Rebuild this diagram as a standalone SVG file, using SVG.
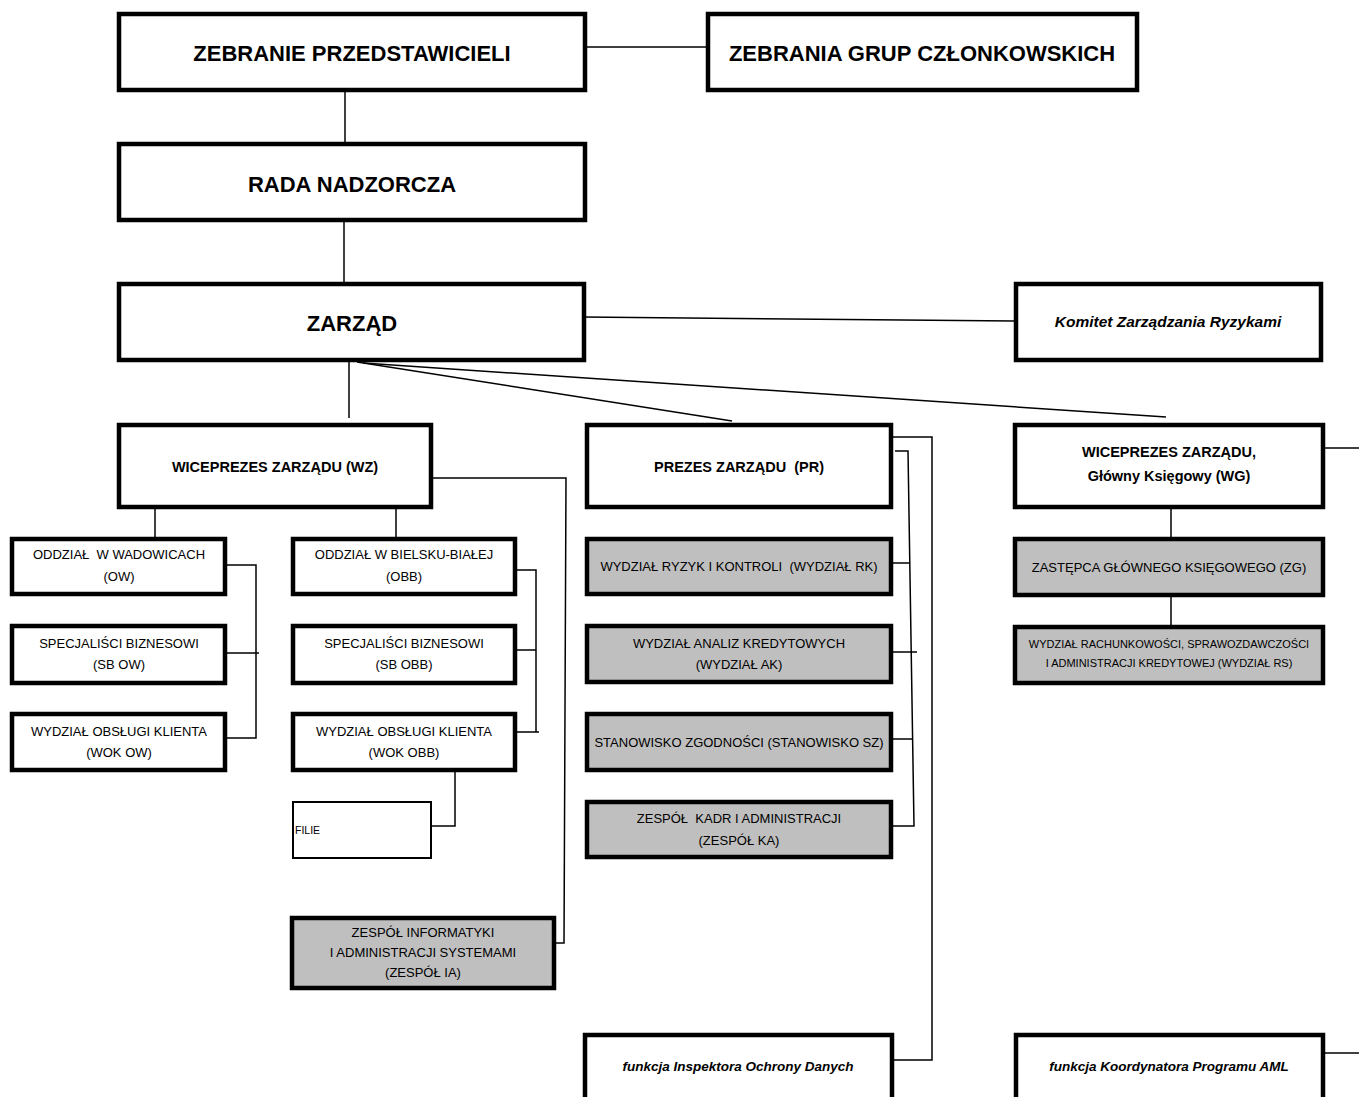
<svg xmlns="http://www.w3.org/2000/svg" width="1359" height="1097" viewBox="0 0 1359 1097">
<style>
.b{fill:#fff;stroke:#000;stroke-width:4.5}
.g{fill:#bfbfbf;stroke:#000;stroke-width:4.5}
.f{fill:#fff;stroke:#000;stroke-width:2}
.t{font-family:"Liberation Sans",Arial,sans-serif;fill:#000;text-anchor:middle}
.h1{font-size:22px;font-weight:bold}
.h2{font-size:14.5px;font-weight:bold}
.n{font-size:13px}
.s{font-size:11px}
.i{font-size:13.5px;font-weight:bold;font-style:italic}
.c{fill:none;stroke:#000;stroke-width:1.5}
</style>
<rect width="1359" height="1097" fill="#fff"/>
<g id="connectors">
<path class="c" d="M587,47H706"/>
<path class="c" d="M345,84V142"/>
<path class="c" d="M344,222V282"/>
<path class="c" d="M583,317L1014,321"/>
<path class="c" d="M349,362V418"/>
<path class="c" d="M357,362L732,421"/>
<path class="c" d="M363,363L1166,417"/>
<path class="c" d="M432,478H566L564,943H556"/>
<path class="c" d="M155,506V537"/>
<path class="c" d="M396,509V537"/>
<path class="c" d="M227,565H256V738H227M227,653H259"/>
<path class="c" d="M512,570H536V732H517M536,732H539M517,650H536"/>
<path class="c" d="M455,772V826H432"/>
<path class="c" d="M888,437H932V1060H894"/>
<path class="c" d="M895,451H908L914,826H893M893,563H910M893,652H917M893,739H912"/>
<path class="c" d="M1325,448H1359"/>
<path class="c" d="M1171,509V537M1171,597V625"/>
<path class="c" d="M1325,1053H1359"/>
</g>
<g id="zebranie-przedstawicieli"><rect class="b" x="119" y="14" width="466" height="76"/><text class="t h1" x="352" y="61">ZEBRANIE PRZEDSTAWICIELI</text></g>
<g id="zebrania-grup"><rect class="b" x="708" y="14" width="429" height="76"/><text class="t h1" x="922" y="61">ZEBRANIA GRUP CZŁONKOWSKICH</text></g>
<g id="rada"><rect class="b" x="119" y="144" width="466" height="76"/><text class="t h1" x="352" y="192">RADA NADZORCZA</text></g>
<g id="zarzad"><rect class="b" x="119" y="284" width="465" height="76"/><text class="t h1" x="352" y="331">ZARZĄD</text></g>
<g id="komitet"><rect class="b" x="1016" y="284" width="305" height="76"/><text class="t" x="1168" y="327" style="font-size:15.5px;font-weight:bold;font-style:italic">Komitet Zarządzania Ryzykami</text></g>
<g id="wz"><rect class="b" x="119" y="425" width="312" height="82"/><text class="t h2" x="275" y="472">WICEPREZES ZARZĄDU (WZ)</text></g>
<g id="pr"><rect class="b" x="587" y="425" width="304" height="82"/><text class="t h2" x="739" y="472" xml:space="preserve">PREZES ZARZĄDU  (PR)</text></g>
<g id="wg"><rect class="b" x="1015" y="425" width="308" height="82"/><text class="t h2" x="1169" y="457">WICEPREZES ZARZĄDU,</text><text class="t h2" x="1169" y="481">Główny Księgowy (WG)</text></g>
<g id="ow"><rect class="b" x="12" y="539" width="213" height="55"/><text class="t n" x="119" y="559" xml:space="preserve">ODDZIAŁ  W WADOWICACH</text><text class="t n" x="119" y="581">(OW)</text></g>
<g id="sbow"><rect class="b" x="12" y="626" width="213" height="57"/><text class="t n" x="119" y="648">SPECJALIŚCI BIZNESOWI</text><text class="t n" x="119" y="669">(SB OW)</text></g>
<g id="wokow"><rect class="b" x="12" y="714" width="213" height="56"/><text class="t n" x="119" y="736">WYDZIAŁ OBSŁUGI KLIENTA</text><text class="t n" x="119" y="757">(WOK OW)</text></g>
<g id="obb"><rect class="b" x="293" y="539" width="222" height="55"/><text class="t n" x="404" y="559">ODDZIAŁ W BIELSKU-BIAŁEJ</text><text class="t n" x="404" y="581">(OBB)</text></g>
<g id="sbobb"><rect class="b" x="293" y="626" width="222" height="57"/><text class="t n" x="404" y="648">SPECJALIŚCI BIZNESOWI</text><text class="t n" x="404" y="669">(SB OBB)</text></g>
<g id="wokobb"><rect class="b" x="293" y="714" width="222" height="56"/><text class="t n" x="404" y="736">WYDZIAŁ OBSŁUGI KLIENTA</text><text class="t n" x="404" y="757">(WOK OBB)</text></g>
<g id="filie"><rect class="f" x="293" y="802" width="138" height="56"/><text class="t" x="295" y="834" style="font-size:10.5px;text-anchor:start">FILIE</text></g>
<g id="ia"><rect class="g" x="292" y="918" width="262" height="70"/><text class="t n" x="423" y="937">ZESPÓŁ INFORMATYKI</text><text class="t n" x="423" y="957">I ADMINISTRACJI SYSTEMAMI</text><text class="t n" x="423" y="977">(ZESPÓŁ IA)</text></g>
<g id="rk"><rect class="g" x="587" y="539" width="304" height="55"/><text class="t n" x="739" y="571" xml:space="preserve">WYDZIAŁ RYZYK I KONTROLI  (WYDZIAŁ RK)</text></g>
<g id="ak"><rect class="g" x="587" y="626" width="304" height="56"/><text class="t n" x="739" y="648">WYDZIAŁ ANALIZ KREDYTOWYCH</text><text class="t n" x="739" y="669">(WYDZIAŁ AK)</text></g>
<g id="sz"><rect class="g" x="587" y="714" width="304" height="56"/><text class="t n" x="739" y="747">STANOWISKO ZGODNOŚCI (STANOWISKO SZ)</text></g>
<g id="ka"><rect class="g" x="587" y="802" width="304" height="55"/><text class="t n" x="739" y="823" xml:space="preserve">ZESPÓŁ  KADR I ADMINISTRACJI</text><text class="t n" x="739" y="845">(ZESPÓŁ KA)</text></g>
<g id="zg"><rect class="g" x="1015" y="539" width="308" height="56"/><text class="t n" x="1169" y="572">ZASTĘPCA GŁÓWNEGO KSIĘGOWEGO (ZG)</text></g>
<g id="rs"><rect class="g" x="1015" y="627" width="308" height="56"/><text class="t s" x="1169" y="648">WYDZIAŁ RACHUNKOWOŚCI, SPRAWOZDAWCZOŚCI</text><text class="t s" x="1169" y="667">I ADMINISTRACJI KREDYTOWEJ (WYDZIAŁ RS)</text></g>
<g id="iod"><rect class="b" x="585" y="1035" width="307" height="100"/><text class="t i" x="738" y="1071">funkcja Inspektora Ochrony Danych</text></g>
<g id="aml"><rect class="b" x="1016" y="1035" width="307" height="100"/><text class="t i" x="1169" y="1071">funkcja Koordynatora Programu AML</text></g>
</svg>
